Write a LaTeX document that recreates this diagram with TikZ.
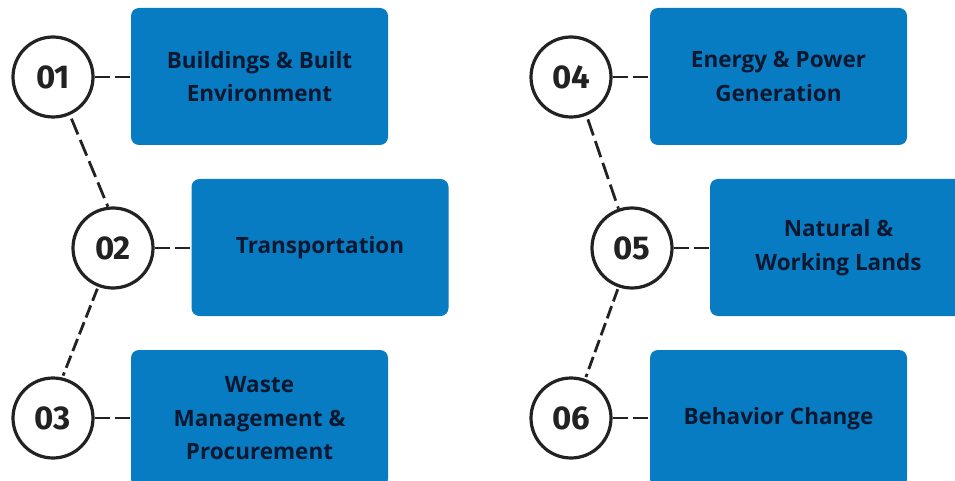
\documentclass[tikz,border=0pt]{standalone}
\usepackage{fontspec}
\setmainfont{Fira Sans}
\newfontfamily\boxfont{Open Sans}
\definecolor{boxblue}{RGB}{8,124,194}
\definecolor{txt}{RGB}{12,24,48}
\definecolor{ring}{RGB}{34,34,34}
\begin{document}
\begin{tikzpicture}[x=1pt,y=-1pt,
  numc/.style={circle, draw=ring, line width=3.2pt, minimum size=80pt, inner sep=0pt,
    font=\fontsize{33}{33}\selectfont\bfseries, text=ring},
  topic/.style={fill=boxblue, rounded corners=8pt, minimum width=257pt, minimum height=137pt,
    inner sep=0pt, align=center, text=txt, font=\boxfont\fontsize{22.5}{33.5}\selectfont\bfseries},
  hlink/.style={draw=ring, line width=2.8pt, dash pattern=on 15pt off 5pt},
  dlink/.style={draw=ring, line width=2.8pt, dash pattern=on 17pt off 6pt},
]
\useasboundingbox (0,0) rectangle (955,481);
\clip (0,0) rectangle (955,481);
\fill[white] (0,0) rectangle (955,481);

\node[numc] (c1) at (53,77) {01};
\node[numc] (c2) at (113,248) {02};
\node[numc] (c3) at (53,418) {03};
\node[numc] (c4) at (571,77) {04};
\node[numc] (c5) at (632,248) {05};
\node[numc] (c6) at (571,418) {06};

\node[topic] (b1) at (259.5,76.5) {Buildings \& Built\\Environment};
\node[topic] (b2) at (320,247.5) {Transportation};
\node[topic] (b3) at (259.5,418.5) {Waste\\Management \&\\Procurement};
\node[topic] (b4) at (778.5,76.5) {Energy \& Power\\Generation};
\node[topic] (b5) at (838.5,247.5) {Natural \&\\Working Lands};
\node[topic] (b6) at (778.5,418.5) {Behavior Change};

\draw[hlink] (c1.east) -- (c1.east -| b1.west);
\draw[hlink] (c2.east) -- (c2.east -| b2.west);
\draw[hlink] (c3.east) -- (c3.east -| b3.west);
\draw[hlink] (c4.east) -- (c4.east -| b4.west);
\draw[hlink] (c5.east) -- (c5.east -| b5.west);
\draw[hlink] (c6.east) -- (c6.east -| b6.west);

\draw[dlink, shorten <=4pt] (c1.-66) -- (c2.97);
\draw[dlink, dash pattern=on 13pt off 5pt, shorten <=2pt, shorten >=2pt] (c2.-111) -- (c3.77);
\draw[dlink, shorten <=4pt] (c4.-68) -- (c5.109);
\draw[dlink, dash pattern=on 13pt off 5pt, shorten <=2pt, shorten >=2pt] (c5.-109) -- (c6.70);
\end{tikzpicture}
\end{document}
